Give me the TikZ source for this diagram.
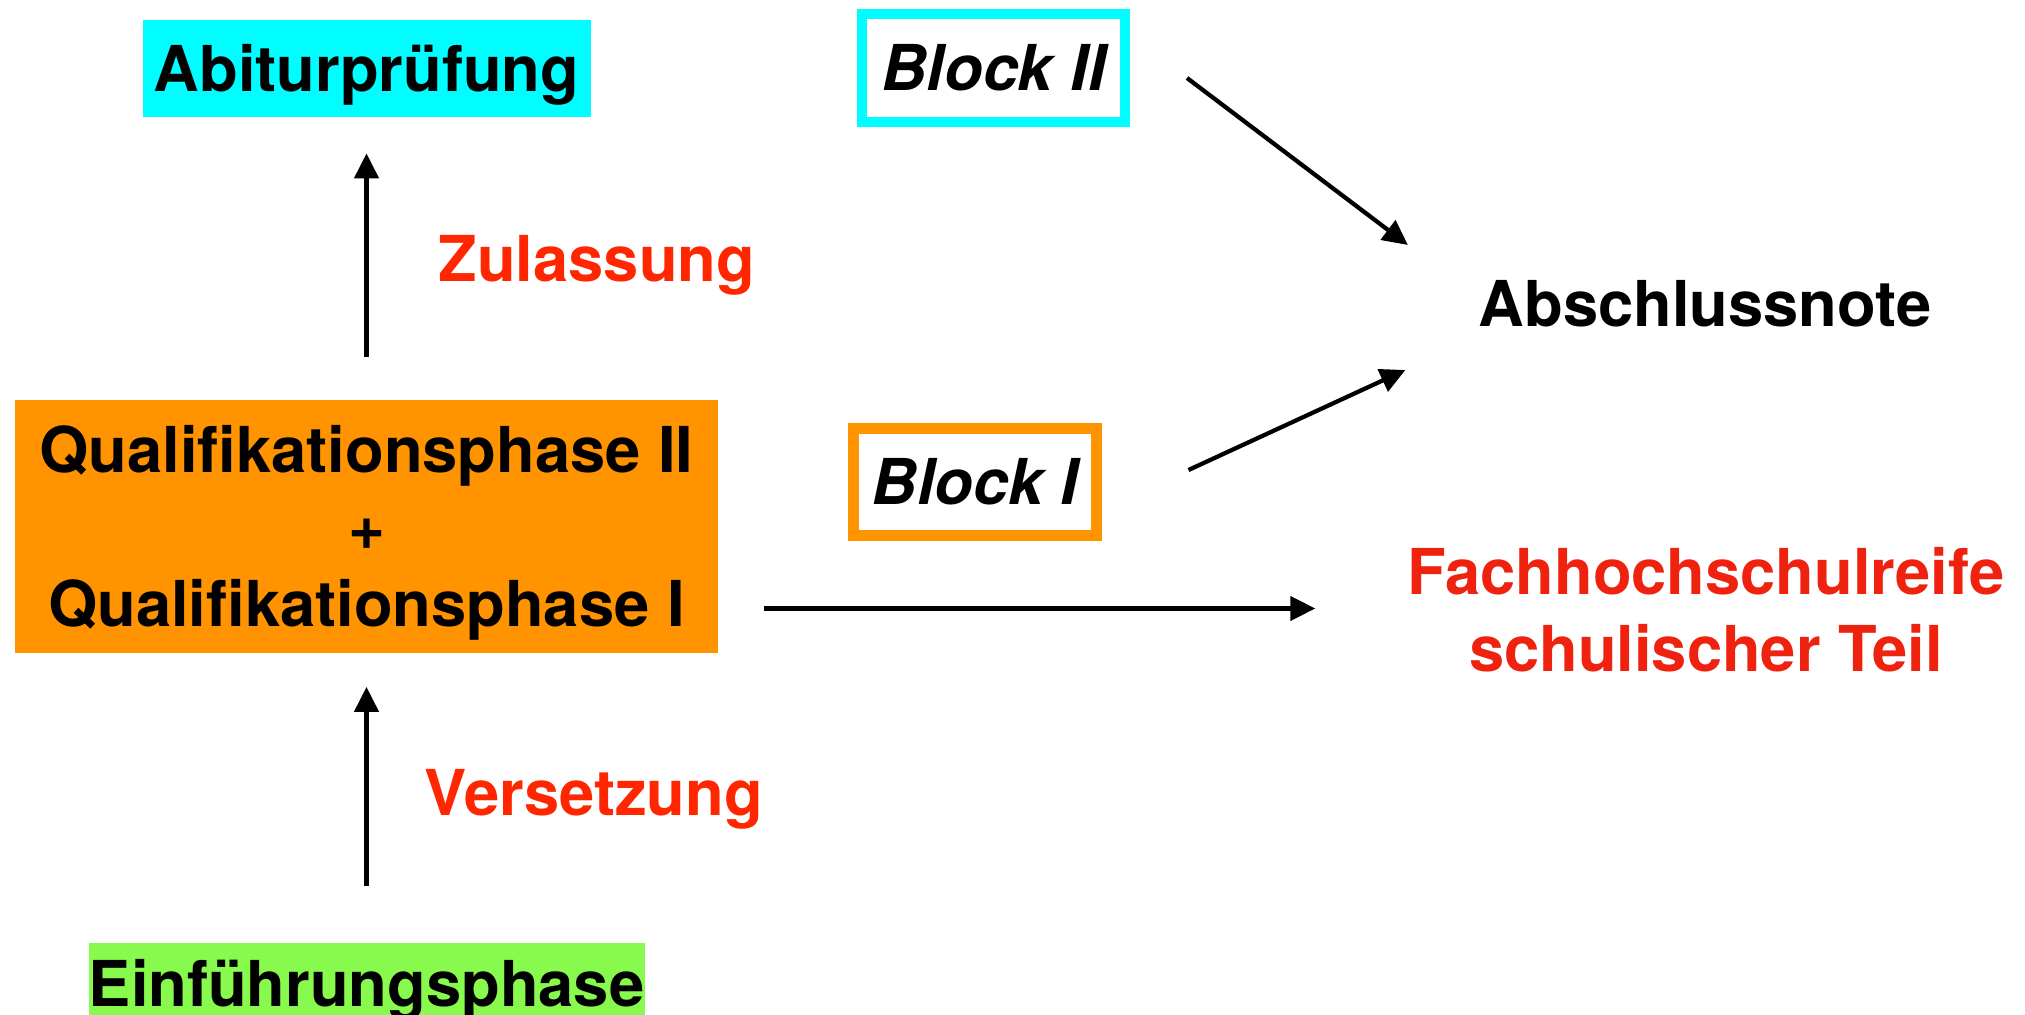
\documentclass[tikz,border=0pt]{standalone}
\usepackage{fontspec}
\setmainfont{TeX Gyre Heros}
\usetikzlibrary{positioning, arrows.meta}
\definecolor{abicyan}{RGB}{0,253,255}
\definecolor{qorange}{RGB}{255,147,0}
\definecolor{egreen}{RGB}{136,250,78}
\definecolor{lblred}{RGB}{255,38,0}
\definecolor{fhrred}{RGB}{238,34,14}
\tikzset{
>={Triangle[length=0.5cm, width=0.48cm]}, % big filled arrow heads
big/.style={font=\fontsize{36}{43.8}\selectfont\bfseries, inner sep=0pt}, % all texts are large and bold
oneline/.style={big, text height=25.9pt, text depth=0pt}, % caps centred in the node
phase/.style={oneline}, % coloured boxes of the school phases
block/.style={oneline, font=\fontsize{36}{43.8}\selectfont\bfseries\itshape, line width=0.2cm, fill=white}, % framed exam blocks
lbl/.style={oneline, text=lblred}, % red labels next to the arrows
arr/.style={->, line width=0.085cm}, % black connectors
}
\begin{document}
\begin{tikzpicture}
\useasboundingbox (0,0) rectangle (40.5,20.28);
\clip (0,0) rectangle (40.5,20.28);

\node[big, fill=abicyan, minimum width=8.96cm, minimum height=1.94cm, oneline] (abi) at (7.33,18.91) {Abiturprüfung};
\node[big, fill=qorange, minimum width=14.06cm, minimum height=5.04cm, align=center, text height=113.5pt, text depth=0pt] (qual) at (7.33,9.75) {Qualifikationsphase II\\+\\Qualifikationsphase I};
\node[phase, fill=egreen, minimum width=11.12cm, minimum height=1.62cm] (einf) at (7.33,0.61) {Einführungsphase};
\node[block, draw=abicyan, minimum width=5.26cm, minimum height=2.16cm] (b2) at (19.87,18.92) {Block II};
\node[block, draw=qorange, line width=0.22cm, minimum width=4.86cm, minimum height=2.13cm] (b1) at (19.5,10.64) {Block I};
\node[oneline] (note) at (34.1,14.2) {Abschlussnote};
\node[big, text=fhrred, align=center] (fhr) at (34.12,8.08) {Fachhochschulreife\\schulischer Teil};

\coordinate (b2out) at ([shift={(1.14,-0.2)}]b2.east);
\coordinate (b2in) at ([shift={(-1.41,1.18)}]note.west);
\coordinate (b1out) at ([shift={(1.73,0.24)}]b1.east);
\coordinate (b1in) at ([shift={(-1.46,-1.32)}]note.west);

\path[arr]
    (qual) edge[shorten <=0.86cm, shorten >=0.72cm] node[lbl, right=1.40cm] {Zulassung} (abi)
    (einf) edge[shorten <=1.14cm, shorten >=0.68cm] node[lbl, right=1.12cm, yshift=0.1cm] {Versetzung} (qual)
    ([yshift=0.03cm]qual.east |- fhr.west) edge[shorten <=0.92cm, shorten >=1.84cm] ([yshift=0.03cm]fhr.west)
    (b2out) edge (b2in)
    (b1out) edge (b1in)
    ;
\end{tikzpicture}
\end{document}
